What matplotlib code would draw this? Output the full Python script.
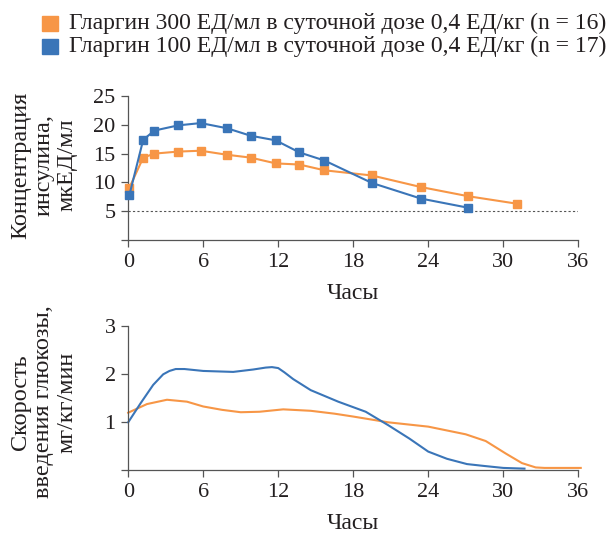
import numpy as np
import matplotlib.pyplot as plt
from matplotlib.ticker import FuncFormatter

plt.rcParams['font.family'] = ['Liberation Serif', 'DejaVu Serif']

# insulin concentration (top panel)
t_100 = [0.1, 1.2, 2.1, 4.0, 5.8, 7.9, 9.8, 11.8, 13.7, 15.7, 19.5, 23.4, 27.2]
ins_100 = [7.85, 17.4, 19.0, 19.9, 20.3, 19.4, 18.1, 17.3, 15.2, 13.8, 9.9, 7.2, 5.6]
t_300 = [0.1, 1.2, 2.1, 4.0, 5.8, 7.9, 9.8, 11.8, 13.7, 15.7, 19.5, 23.4, 27.2, 31.1]
ins_300 = [9.1, 14.3, 15.0, 15.35, 15.5, 14.8, 14.3, 13.3, 13.1, 12.1, 11.2, 9.2, 7.6, 6.3]

# glucose infusion rate (bottom panel)
g_t_100 = [0, 1.0, 2.0, 2.8, 3.3, 3.8, 4.5, 6.0, 8.4, 10.0, 11.0, 11.5, 12.0, 12.5, 13.2, 14.6,
           16.8, 19.0, 20.8, 22.5, 24.0, 25.5, 27.1, 28.5, 30.0, 31.7]
g_100 = [1.0, 1.4, 1.78, 2.0, 2.07, 2.11, 2.11, 2.07, 2.05, 2.1, 2.14, 2.15, 2.13, 2.04, 1.9, 1.67,
         1.43, 1.22, 0.94, 0.66, 0.39, 0.24, 0.13, 0.09, 0.05, 0.035]
g_t_300 = [0, 1.5, 3.1, 4.7, 6.0, 7.5, 9.0, 10.5, 12.4, 14.6, 16.5, 18.0, 20.8, 24.0, 27.0,
           28.6, 30.2, 31.5, 32.6, 33.3, 36.2]
g_300 = [1.2, 1.38, 1.47, 1.43, 1.33, 1.26, 1.21, 1.22, 1.27, 1.24, 1.18, 1.12, 1.0, 0.91, 0.75,
         0.61, 0.35, 0.15, 0.06, 0.05, 0.05]

labels = ['Гларгин 300 ЕД/мл в суточной дозе 0,4 ЕД/кг (n = 16)',
          'Гларгин 100 ЕД/мл в суточной дозе 0,4 ЕД/кг (n = 17)']
xticks = [0, 6, 12, 18, 24, 30, 36]

orange = '#F79646'
blue = '#3A75B8'
txt = '#231F20'
fs = 16

fig = plt.figure(figsize=(6.09, 5.33), dpi=100)
ax1 = fig.add_axes([0.2105, 0.5497, 0.739, 0.2702])
ax2 = fig.add_axes([0.2105, 0.1176, 0.739, 0.2702])

def style(ax):
    for s in ['top', 'right']:
        ax.spines[s].set_visible(False)
    for s in ['left', 'bottom']:
        ax.spines[s].set_color('#555555')
        ax.spines[s].set_linewidth(0.9)
    ax.tick_params(direction='out', length=5, width=0.9, color='#555555', pad=4,
                   labelsize=fs, labelcolor=txt)
    ax.set_xlim(0, 36)
    ax.set_xticks(xticks)
    ax.set_xlabel('Часы', fontsize=fs + 1, color=txt, labelpad=8)
    ax.xaxis.set_major_formatter(FuncFormatter(lambda v, p: '%d' % v))

# top
style(ax1)
ax1.set_ylim(0, 25)
ax1.set_yticks([0, 5, 10, 15, 20, 25])
ax1.yaxis.set_major_formatter(FuncFormatter(lambda v, p: '' if v == 0 else '%d' % v))
ax1.axhline(5, color='#555555', lw=0.8, ls=(0, (2, 2)))
ax1.plot(t_300, ins_300, color=orange, lw=1.5, marker='s', ms=6, clip_on=False, zorder=3)
ax1.plot(t_100, ins_100, color=blue, lw=1.5, marker='s', ms=6, clip_on=False, zorder=4)

# bottom
style(ax2)
ax2.set_ylim(0, 3)
ax2.set_yticks([0, 1, 2, 3])
ax2.yaxis.set_major_formatter(FuncFormatter(lambda v, p: '' if v == 0 else '%d' % v))
ax2.plot(g_t_300, g_300, color=orange, lw=1.5, clip_on=False)
ax2.plot(g_t_100, g_100, color=blue, lw=1.5, clip_on=False)

# y labels
fig.text(44 / 609, 1 - 165 / 533, 'Концентрация\nинсулина,\nмкЕД/мл', rotation=90, ha='center',
         va='center', fontsize=17.5, color=txt, multialignment='center', linespacing=1.15)
fig.text(44 / 609, 1 - 402 / 533, 'Скорость\nвведения глюкозы,\nмг/кг/мин', rotation=90, ha='center',
         va='center', fontsize=17.5, color=txt, multialignment='center', linespacing=1.15)

# legend
for i, (lab, c) in enumerate(zip(labels, [orange, blue])):
    y = 1 - (23.5 + 23 * i) / 533
    fig.patches.append(plt.Rectangle((42 / 609, y - 7.5 / 533), 15.5 / 609, 15 / 533,
                                     transform=fig.transFigure, color=c, figure=fig))
    fig.text(69 / 609, y, lab, fontsize=17, va='center', ha='left', color=txt)

fig.savefig('out.png', dpi=100)
